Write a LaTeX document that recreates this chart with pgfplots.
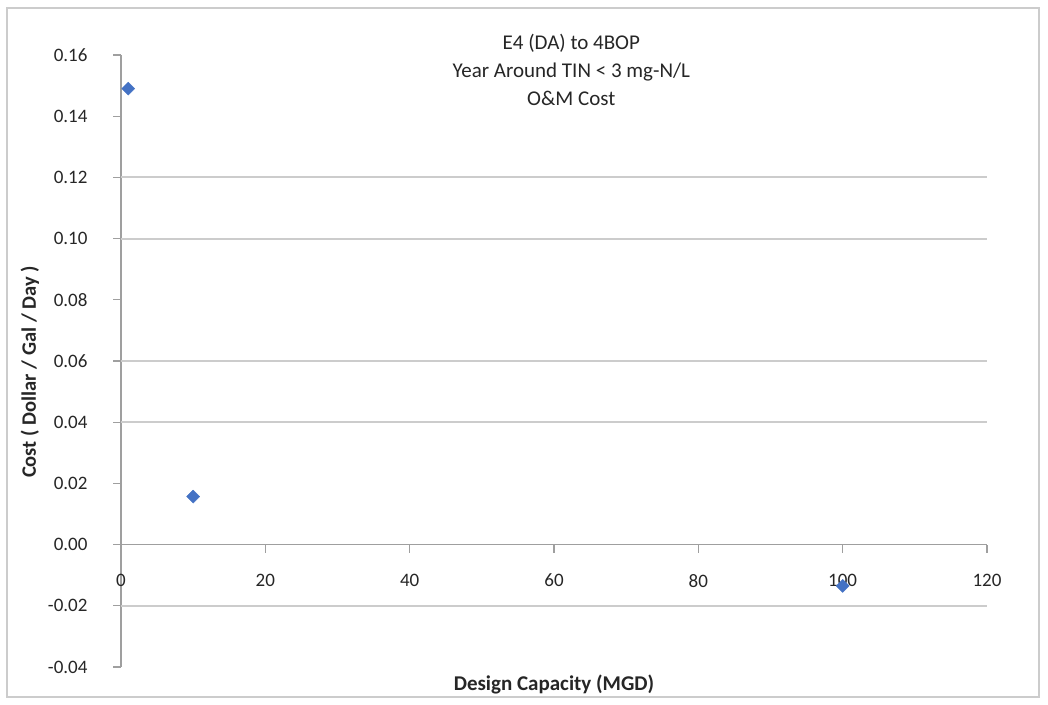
\documentclass[border=0pt]{standalone}
\usepackage{pgfplots}
\pgfplotsset{compat=1.18}
\usepackage{fontspec}
\setmainfont{Carlito}
\definecolor{exblue}{RGB}{68,114,196}
\begin{document}
\begin{tikzpicture}
\begin{axis}[
  scale only axis, width=866pt, height=612pt,
  xmin=0, xmax=120, ymin=-0.04, ymax=0.16,
  axis x line=middle, axis y line=left,
  axis line style={-, gray!75, line width=1.2pt},
  hide obscured x ticks=false, hide obscured y ticks=false,
  xtick={0,20,...,120},
  ytick={-0.04,-0.02,0,0.02,0.04,0.06,0.08,0.10,0.12,0.14,0.16},
  extra y ticks={-0.02,0.04,0.06,0.10,0.12},
  extra y tick labels={},
  extra y tick style={grid=major, major tick length=0pt},
  /pgf/number format/assume math mode=true,
  yticklabel style={/pgf/number format/fixed, /pgf/number format/precision=2, /pgf/number format/fixed zerofill, xshift=-22pt},
  xticklabel style={yshift=-18pt},
  scaled y ticks=false,
  ticklabel style={font=\fontsize{19}{19}\selectfont, text=black!85},
  tick align=outside, major tick length=8pt,
  tick style={gray!75, line width=1.2pt},
  grid style={gray!40, line width=2pt},
  xlabel={Design Capacity (MGD)},
  xlabel style={at={(axis description cs:0.5,0)}, anchor=north, yshift=-4pt, font=\bfseries\fontsize{21}{21}\selectfont, text=black!85},
  ylabel={Cost ( Dollar / Gal / Day )},
  ylabel style={at={(axis description cs:0,0.482)}, anchor=center, yshift=91pt, font=\bfseries\fontsize{20.5}{20.5}\selectfont, text=black!85},
  clip=false,
]
\addplot[only marks, mark=square*, mark size=4.6pt, mark options={rotate=45}, color=exblue] coordinates {
  (1, 0.149)
  (10, 0.0157)
  (100, -0.0135)
};
\node[align=center, font=\fontsize{21}{28}\selectfont, text=black!85] at (axis description cs:0.52,0.976) {E4 (DA) to 4BOP\\Year Around TIN < 3 mg-N/L\\O\&M Cost};
\coordinate (O) at (rel axis cs:0,0);
\end{axis}
\pgfresetboundingbox
\path (O) ++(-121pt,-37pt) rectangle ++(1048pt,704pt);
\draw[gray!40, line width=1.5pt] (O) ++(-114pt,-30pt) rectangle ++(1032pt,689pt);
\end{tikzpicture}
\end{document}
